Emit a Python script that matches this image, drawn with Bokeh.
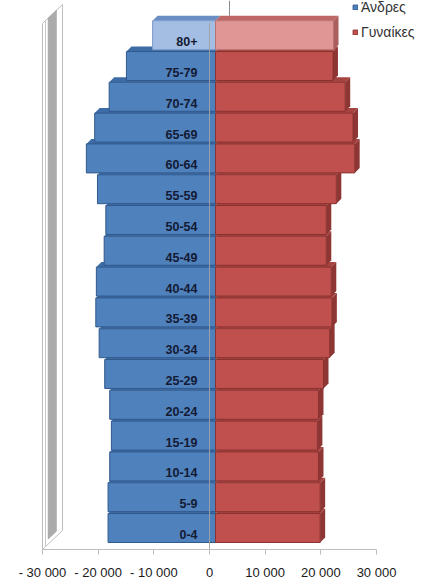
import numpy as np
from bokeh.plotting import figure
from bokeh.models import (Range1d, LinearAxis, FixedTicker, ColumnDataSource,
                          Legend, LegendItem)
from bokeh.core.properties import value
from bokeh.embed import file_html
from bokeh.resources import INLINE

# Population by five-year age group
age_groups = ["0-4", "5-9", "10-14", "15-19", "20-24", "25-29", "30-34", "35-39",
              "40-44", "45-49", "50-54", "55-59", "60-64", "65-69", "70-74",
              "75-79", "80+"]
men = [19300, 19300, 19000, 18700, 19000, 19900, 20900, 21500,
       21400, 20000, 19700, 21200, 23200, 21700, 19100, 16000, 11300]
women = [18800, 18800, 18500, 18300, 18500, 19400, 20500, 20900,
         20800, 19900, 19900, 21700, 25000, 24700, 23300, 21100, 21200]
series_names = ["Άνδρες", "Γυναίκες"]
x_ticks = [-30000, -20000, -10000, 0, 10000, 20000, 30000]
x_tick_labels = ["- 30 000", "- 20 000", "- 10 000", "0", "10 000", "20 000", "30 000"]

# ---- layout (pixels) ----
W, H = 423, 586
BOTTOM_PX = 37                 # space under the floor for tick labels
FRAME_H = H - BOTTOM_PX
PX_PER_UNIT = 55.67 / 10000    # horizontal scale
ROW_PX = 30.8                  # vertical distance between age groups
BAR_ZERO_PX = 215              # zero of the bars (front face plane)
AXIS_ZERO_PX = 209             # zero on the floor edge
FIRST_ROW_PX = 21.5            # first bar centre above the frame bottom
BAR_H = 0.94
DEPTH_PX = 5                   # bar depth, drawn as an oblique offset
WALL_DEPTH_PX = 20

FONT = "Liberation Sans"

n = len(age_groups)
idx = np.arange(n, dtype=float)
m = np.array(men, dtype=float)
w = np.array(women, dtype=float)

x_range = Range1d(-BAR_ZERO_PX / PX_PER_UNIT, (W - BAR_ZERO_PX) / PX_PER_UNIT)
floor_range = Range1d(-AXIS_ZERO_PX / PX_PER_UNIT, (W - AXIS_ZERO_PX) / PX_PER_UNIT)
y0 = -FIRST_ROW_PX / ROW_PX
y_range = Range1d(y0, y0 + FRAME_H / ROW_PX)

p = figure(width=W, height=H, x_range=x_range, y_range=y_range,
           output_backend="svg", toolbar_location=None,
           x_axis_location=None, y_axis_location=None,
           min_border_left=0, min_border_right=0, min_border_top=0,
           min_border_bottom=BOTTOM_PX, outline_line_color=None,
           background_fill_color="white", border_fill_color="white")
p.xgrid.visible = False
p.ygrid.visible = False
p.extra_x_ranges = {"floor": floor_range}

# ---- colours: the oldest group is drawn in a lighter tint ----
light = [g == "80+" for g in age_groups]
blue_front = ["#A3BEE2" if l else "#4F81BD" for l in light]
blue_top = ["#6A8EC4" if l else "#3E6CA6" for l in light]
blue_edge = ["#7C9CC9" if l else "#30598C" for l in light]
red_front = ["#E09694" if l else "#C0504D" for l in light]
red_top = ["#BD6866" if l else "#A64340" for l in light]
red_side = ["#AA5F5D" if l else "#8E3633" for l in light]
red_edge = ["#B87371" if l else "#8A3230" for l in light]

# ---- oblique top and side faces (drawn first, bottom row upwards) ----
dx = DEPTH_PX / PX_PER_UNIT
dy = DEPTH_PX / ROW_PX
xs, ys, fills = [], [], []
for i in range(n):
    t = idx[i] + BAR_H / 2
    b = idx[i] - BAR_H / 2
    # men: top face
    xs.append([-m[i], 0, dx, -m[i] + dx])
    ys.append([t, t, t + dy, t + dy])
    fills.append(blue_top[i])
    # women: top face
    xs.append([0, w[i], w[i] + dx, dx])
    ys.append([t, t, t + dy, t + dy])
    fills.append(red_top[i])
    # women: right side face
    xs.append([w[i], w[i] + dx, w[i] + dx, w[i]])
    ys.append([t, t + dy, b + dy, b])
    fills.append(red_side[i])
p.patches(xs, ys, fill_color=fills, line_color=None)

# ---- front faces ----
src = ColumnDataSource(dict(y=idx, men_left=-m, women_right=w,
                            bf=blue_front, be=blue_edge, rf=red_front, re=red_edge))
r_men = p.hbar(y="y", left="men_left", right=0, height=BAR_H, source=src,
               fill_color="bf", line_color="be", line_width=1)
r_women = p.hbar(y="y", left=0, right="women_right", height=BAR_H, source=src,
                 fill_color="rf", line_color="re", line_width=1)

# ---- side wall on the left ----
wdx = WALL_DEPTH_PX / PX_PER_UNIT
wdy = (WALL_DEPTH_PX - 1) / ROW_PX
wall_x = x_ticks[0]
floor_y = y_range.start
wall_top = y_range.end - 23 / ROW_PX
p.patch([wall_x, wall_x, wall_x + wdx, wall_x + wdx],
        [floor_y, wall_top, wall_top + wdy, floor_y + wdy],
        x_range_name="floor", fill_color="white", line_color="#BDBDBD", line_width=1)
za, zb = 0.28, 0.70
inset = 5 / ROW_PX
p.patch([wall_x + za * wdx, wall_x + za * wdx, wall_x + zb * wdx, wall_x + zb * wdx],
        [floor_y + za * wdy + inset, wall_top + za * wdy,
         wall_top + zb * wdy, floor_y + zb * wdy + inset],
        x_range_name="floor", fill_color="#ABABAB", line_color="#A0A0A0", line_width=0.5)
zl = 0.15
p.segment(x0=[wall_x + zl * wdx], y0=[floor_y + zl * wdy], x1=[wall_x + zl * wdx],
          y1=[wall_top + zl * wdy], x_range_name="floor", line_color="#C8C8C8", line_width=1)

# ---- vertical zero lines (front over the bars, back above the top bar) ----
p.segment(x0=[0], y0=[floor_y], x1=[0], y1=[n - 1 + 0.38], x_range_name="floor",
          line_color="#A3A3A3", line_alpha=0.9, line_width=1)
p.segment(x0=[wdx], y0=[y_range.end], x1=[wdx], y1=[n - 1 + BAR_H / 2 + dy],
          x_range_name="floor", line_color="#8C8C8C", line_width=1)

# ---- age-group labels on the floor plane ----
p.text(x=0, y=idx, text=age_groups, x_range_name="floor",
       x_offset=-12, y_offset=6.5, text_align="right", text_baseline="middle",
       text_font=value(FONT), text_font_style="bold", text_font_size="12.5px",
       text_color="#141A33")

# ---- value axis along the floor edge ----
ax = LinearAxis(x_range_name="floor", bounds=(x_ticks[0], x_ticks[-1]),
                ticker=FixedTicker(ticks=x_ticks),
                major_label_overrides={t: lab for t, lab in zip(x_ticks, x_tick_labels)})
ax.axis_line_color = "#BDBDBD"
ax.major_tick_line_color = "#BDBDBD"
ax.major_tick_in = 0
ax.major_tick_out = 5
ax.minor_tick_line_color = None
ax.major_label_standoff = 10
ax.major_label_text_font = FONT
ax.major_label_text_font_size = "13px"
ax.major_label_text_color = "#1A1A1A"
p.add_layout(ax, "below")

# ---- legend ----
legend = Legend(items=[LegendItem(label=series_names[0], renderers=[r_men], index=0),
                       LegendItem(label=series_names[1], renderers=[r_women], index=0)],
                location=(352, FRAME_H - 40), orientation="vertical",
                glyph_width=6, glyph_height=6, label_standoff=3, spacing=9,
                label_height=16, padding=0, margin=0,
                label_text_font=FONT, label_text_font_size="14px",
                label_text_color="#333333",
                background_fill_alpha=0, border_line_alpha=0)
p.add_layout(legend)

open("out.html", "w").write(file_html(p, INLINE))
